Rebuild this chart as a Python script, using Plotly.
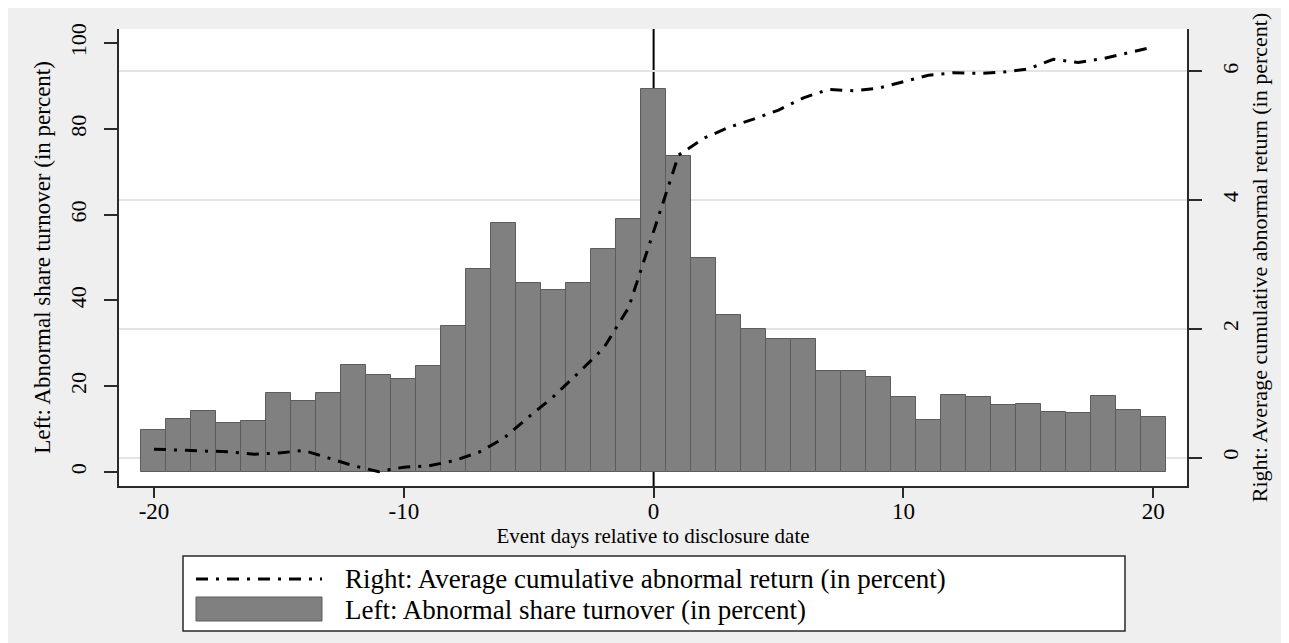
import plotly.graph_objects as go

# ---- data ----
event_days = list(range(-20, 21))
turnover = [9.9, 12.3, 14.2, 11.4, 11.8, 18.5, 16.6, 18.5, 25.0, 22.6,
            21.7, 24.7, 34.1, 47.4, 58.1, 44.1, 42.5, 44.1, 52.0, 59.0,
            89.4, 73.7, 49.8, 36.5, 33.4, 30.9, 30.9, 23.6, 23.6, 22.2,
            17.4, 12.1, 17.9, 17.4, 15.6, 15.9, 14.1, 13.7, 17.7, 14.5, 12.9]
car = [0.13, 0.11, 0.10, 0.09, 0.05, 0.07, 0.11, -0.01, -0.13, -0.22,
       -0.15, -0.13, -0.05, 0.08, 0.30, 0.63, 0.95, 1.32, 1.70, 2.33,
       3.50, 4.70, 4.96, 5.13, 5.26, 5.40, 5.59, 5.72, 5.70, 5.74,
       5.84, 5.94, 5.98, 5.97, 5.99, 6.04, 6.19, 6.14, 6.20, 6.29, 6.38]
x_ticks = [-20, -10, 0, 10, 20]
left_ticks = [0, 20, 40, 60, 80, 100]
right_ticks = [0, 2, 4, 6]

name_line = "Right: Average cumulative abnormal return (in percent)"
name_bar = "Left: Abnormal share turnover (in percent)"
x_title = "Event days relative to disclosure date"

FONT = "Liberation Serif"
BAR_FILL = "#808080"
BAR_EDGE = "#5c5c5c"
AXC = "#2a2a2a"
DASH = "12px,8px,3px,8px"

# the page adds an 8px body margin, so the figure is laid out in
# page coordinates minus 8px
OFF = 8
W, H = 1289 - OFF, 643 - OFF
ML, MT = 119 - OFF, 29 - OFF
PLOT_RIGHT, PLOT_BOTTOM = 1187 - OFF, 486 - OFF
MR, MB = W - PLOT_RIGHT, H - PLOT_BOTTOM
PW, PH = PLOT_RIGHT - ML, PLOT_BOTTOM - MT


def px(xpage):
    return (xpage - OFF - ML) / PW


def py(ypage):
    return (PLOT_BOTTOM - (ypage - OFF)) / PH


fig = go.Figure()
fig.add_trace(go.Bar(
    x=event_days, y=turnover, width=1.0, name=name_bar,
    marker=dict(color=BAR_FILL, line=dict(color=BAR_EDGE, width=1)),
    yaxis="y", showlegend=False))
fig.add_trace(go.Scatter(
    x=event_days, y=car, mode="lines", name=name_line,
    line=dict(color="black", width=3, dash=DASH),
    yaxis="y2", showlegend=False))

shapes = [
    # vertical line at disclosure date (behind the bars)
    dict(type="line", xref="x", yref="paper", x0=0, x1=0, y0=0, y1=1,
         line=dict(color="black", width=2), layer="below"),
    # legend box
    dict(type="rect", xref="paper", yref="paper", x0=px(183), x1=px(1125),
         y0=py(631), y1=py(556), fillcolor="white",
         line=dict(color=AXC, width=1.5)),
    # legend sample: dash-dot line
    dict(type="line", xref="paper", yref="paper", x0=px(196), x1=px(322),
         y0=py(579), y1=py(579), line=dict(color="black", width=3, dash=DASH)),
    # legend sample: bar swatch
    dict(type="rect", xref="paper", yref="paper", x0=px(196), x1=px(322),
         y0=py(621), y1=py(597), fillcolor=BAR_FILL,
         line=dict(color=BAR_EDGE, width=1)),
]

annotations = [
    dict(xref="paper", yref="paper", x=px(343), y=py(579), text=name_line,
         showarrow=False, xanchor="left", yanchor="middle",
         font=dict(family=FONT, size=27, color="black")),
    dict(xref="paper", yref="paper", x=px(343), y=py(610), text=name_bar,
         showarrow=False, xanchor="left", yanchor="middle",
         font=dict(family=FONT, size=27, color="black")),
]

fig.update_layout(
    width=W, height=H,
    margin=dict(l=ML, r=MR, t=MT, b=MB, autoexpand=False),
    paper_bgcolor="#efefef", plot_bgcolor="white",
    font=dict(family=FONT, color="black"),
    bargap=0, showlegend=False,
    shapes=shapes, annotations=annotations,
    xaxis=dict(
        range=[-21.40, 21.35], tickvals=x_ticks,
        ticktext=[str(v) for v in x_ticks],
        showgrid=False, zeroline=False,
        showline=True, linecolor=AXC, linewidth=1.5, mirror=False,
        ticks="outside", ticklen=10, tickwidth=1.5, tickcolor=AXC,
        ticklabelstandoff=-6,
        tickfont=dict(family=FONT, size=23, color="black"),
        title=dict(text=x_title, font=dict(family=FONT, size=21, color="black"),
                   standoff=0),
        automargin=False,
    ),
    yaxis=dict(
        range=[-3.27, 103.3], tickvals=left_ticks,
        showgrid=False, zeroline=False,
        showline=True, linecolor=AXC, linewidth=1.5,
        ticks="outside", ticklen=13, tickwidth=1.5, tickcolor=AXC,
        tickangle=-90, ticklabelstandoff=9,
        tickfont=dict(family=FONT, size=22, color="black"),
        title=dict(text=name_bar, font=dict(family=FONT, size=23, color="black"),
                   standoff=9),
        automargin=False,
    ),
    yaxis2=dict(
        range=[-0.443, 6.66], tickvals=right_ticks,
        overlaying="y", side="right", anchor="x",
        showgrid=True, gridcolor="#e4e4e4", gridwidth=2,
        zeroline=False,
        showline=True, linecolor=AXC, linewidth=1.5,
        ticks="outside", ticklen=13, tickwidth=1.5, tickcolor=AXC,
        tickangle=-90, ticklabelstandoff=10,
        tickfont=dict(family=FONT, size=22, color="black"),
        title=dict(text=name_line, font=dict(family=FONT, size=22, color="black"),
                   standoff=9),
        automargin=False,
    ),
)

fig.write_html("out.html")
